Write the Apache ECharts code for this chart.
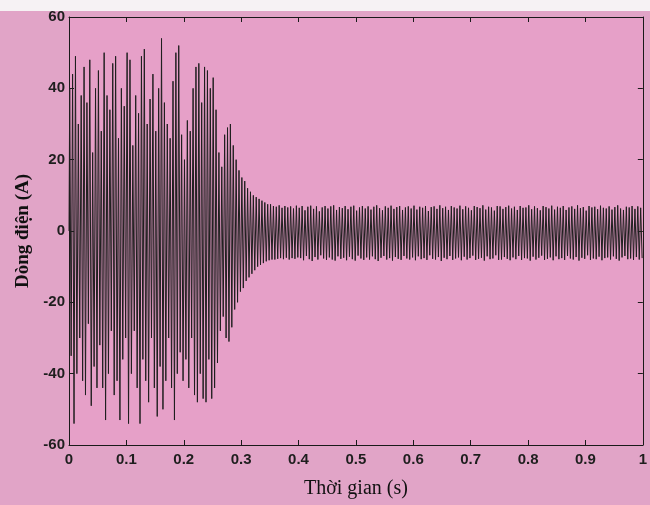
<!DOCTYPE html>
<html>
<head>
<meta charset="utf-8">
<script src="https://cdn.jsdelivr.net/npm/echarts@6/dist/echarts.min.js"></script>
<style>
  html, body { margin: 0; padding: 0; background: #e1a4c7; }
  #chart { width: 650px; height: 505px; }
</style>
</head>
<body>
<div id="chart"></div>
<script>
// peak values, one max and one min per 0.005 s cycle
const period = 0.005;
const peakHigh = [
  40, 44, 49, 30, 38, 46, 36, 48, 22, 40,
  45, 28, 50, 38, 34, 47, 49, 26, 40, 35,
  50, 48, 24, 38, 33, 49, 51, 30, 37, 44,
  28, 40, 54, 36, 30, 26, 42, 50, 52, 27,
  20, 31, 28, 40, 46, 47, 36, 46, 45, 40,
  43, 34, 22, 18, 27, 29, 30, 24, 20, 17,
  15, 14, 12, 11, 10, 9.5, 9, 8.5, 8, 7.5,
  7.5, 7, 6.8, 7.2, 6.5, 7, 6.6, 6.9, 6.3, 7.1,
  6.5, 7, 5.8, 6.8, 7.1, 6.2, 6.9, 5.5, 6.6, 7,
  6.3, 6.9, 7.2, 5.9, 6.7, 6.4, 7, 6.1, 6.8, 7.1,
  5.7, 6.6, 7, 6.3, 6.9, 6, 6.8, 7.2, 6.4, 5.8,
  6.9, 6.5, 7.1, 6.2, 6.7, 7, 5.9, 6.6, 6.9, 6.3,
  7.1, 6, 6.8, 6.5, 7, 5.6, 6.7, 6.9, 6.2, 7.2,
  6.4, 6.8, 5.9, 7, 6.6, 6.3, 7.1, 6.1, 6.9, 6.5,
  5.8, 7, 6.7, 6.4, 7.2, 6, 6.8, 6.6, 5.7, 7,
  6.9, 6.2, 6.7, 7.1, 6.3, 6.8, 5.9, 7, 6.5, 6.6,
  7.2, 6.1, 6.9, 6.4, 5.8, 7, 6.7, 6.3, 7.1, 6,
  6.8, 6.5, 7, 5.9, 6.6, 6.9, 6.2, 7.2, 6.4, 6.7,
  5.7, 7, 6.6, 6.8, 6.1, 7.1, 6.5, 6.3, 6.9, 6,
  6.7, 7.2, 6.3, 5.9, 6.8, 6.6, 7, 6.2, 6.9, 6.5
];
const peakLow = [
  -35, -54, -40, -30, -42, -46, -26, -49, -38, -44,
  -32, -44, -53, -40, -28, -46, -42, -53, -36, -30,
  -54, -40, -28, -44, -54, -36, -42, -48, -30, -44,
  -52, -38, -50, -42, -30, -44, -53, -40, -34, -42,
  -36, -44, -30, -46, -48, -40, -47, -48, -36, -47,
  -44, -37, -28, -24, -30, -31, -27, -22, -20, -17,
  -16, -14, -13, -12, -11, -10, -9.5, -9, -8.5, -8.2,
  -8, -8, -7.8, -7.6, -7.9, -7.5, -8, -7.6, -7.8, -7.4,
  -7.6, -8.2, -7, -7.9, -8.4, -7.3, -8, -6.8, -7.7, -8.1,
  -7.4, -8, -8.3, -7.1, -7.8, -7.5, -8.2, -7.2, -7.9, -8.3,
  -6.9, -7.7, -8.1, -7.4, -8, -7.1, -7.9, -8.4, -7.5, -7,
  -8, -7.6, -8.3, -7.3, -7.8, -8.1, -7, -7.7, -8, -7.4,
  -8.2, -7.1, -7.9, -7.6, -8.1, -6.8, -7.8, -8, -7.3, -8.4,
  -7.5, -7.9, -7, -8.1, -7.7, -7.4, -8.2, -7.2, -8, -7.6,
  -6.9, -8.1, -7.8, -7.5, -8.3, -7.1, -7.9, -7.7, -6.8, -8.1,
  -8, -7.3, -7.8, -8.2, -7.4, -7.9, -7, -8.1, -7.6, -7.7,
  -8.3, -7.2, -8, -7.5, -6.9, -8.1, -7.8, -7.4, -8.2, -7.1,
  -7.9, -7.6, -8.1, -7, -7.7, -8, -7.3, -8.3, -7.5, -7.8,
  -6.8, -8.1, -7.7, -7.9, -7.2, -8.2, -7.6, -7.4, -8, -7.1,
  -7.8, -8.3, -7.4, -7, -7.9, -7.7, -8.1, -7.3, -8, -7.6
];
const xTicks = { min: 0, max: 1, interval: 0.1 };
const yTicks = { min: -60, max: 60, interval: 20 };

const wave = [[0, 0]];
for (let i = 0; i < peakHigh.length; i++) {
  wave.push([i * period + period / 4, peakHigh[i]]);
  wave.push([i * period + period * 3 / 4, peakLow[i]]);
}

const myChart = echarts.init(document.getElementById('chart'));
const labelStyle = { color: '#1e1e1e', fontFamily: 'Liberation Sans', fontWeight: 'bold', fontSize: 15 };
const lineStyle = { color: '#1a1a1a', width: 1 };

const options = {
  backgroundColor: '#e1a4c7',
  animation: false,
  graphic: [
    { type: 'rect', shape: { x: 0, y: 0, width: 650, height: 11 }, style: { fill: '#f6f2f4' } }
  ],
  grid: {
    left: 69, right: 5, top: 17, bottom: 60,
    show: true, backgroundColor: '#e6a0c8', borderWidth: 0
  },
  xAxis: [
    {
      type: 'value', min: xTicks.min, max: xTicks.max, interval: xTicks.interval,
      name: 'Thời gian (s)', nameLocation: 'middle', nameGap: 34,
      nameTextStyle: { color: '#111', fontFamily: 'Liberation Serif', fontSize: 20 },
      axisLine: { show: true, onZero: false, lineStyle: lineStyle },
      axisTick: { show: true, inside: true, length: 5, lineStyle: lineStyle },
      axisLabel: Object.assign({ margin: 7 }, labelStyle),
      splitLine: { show: false }
    },
    {
      type: 'value', position: 'top', min: xTicks.min, max: xTicks.max, interval: xTicks.interval,
      axisLine: { show: true, onZero: false, lineStyle: lineStyle },
      axisTick: { show: true, inside: true, length: 5, lineStyle: lineStyle },
      axisLabel: { show: false },
      splitLine: { show: false }
    }
  ],
  yAxis: [
    {
      type: 'value', min: yTicks.min, max: yTicks.max, interval: yTicks.interval,
      name: 'Dòng điện (A)', nameLocation: 'middle', nameGap: 22,
      nameTextStyle: { color: '#111', fontFamily: 'Liberation Serif', fontWeight: 'bold', fontSize: 19 },
      axisLine: { show: true, onZero: false, lineStyle: lineStyle },
      axisTick: { show: true, inside: true, length: 5, lineStyle: lineStyle },
      axisLabel: Object.assign({ margin: 4 }, labelStyle),
      splitLine: { show: false }
    },
    {
      type: 'value', position: 'right', min: yTicks.min, max: yTicks.max, interval: yTicks.interval,
      axisLine: { show: true, onZero: false, lineStyle: lineStyle },
      axisTick: { show: true, inside: true, length: 5, lineStyle: lineStyle },
      axisLabel: { show: false },
      splitLine: { show: false }
    }
  ],
  series: [
    {
      type: 'line',
      data: wave,
      showSymbol: false,
      lineStyle: { color: '#1f1f1f', width: 1 },
      clip: true
    }
  ]
};
myChart.setOption(options);
window.addEventListener('resize', function () {
  myChart.resize();
});
</script>
</body>
</html>
